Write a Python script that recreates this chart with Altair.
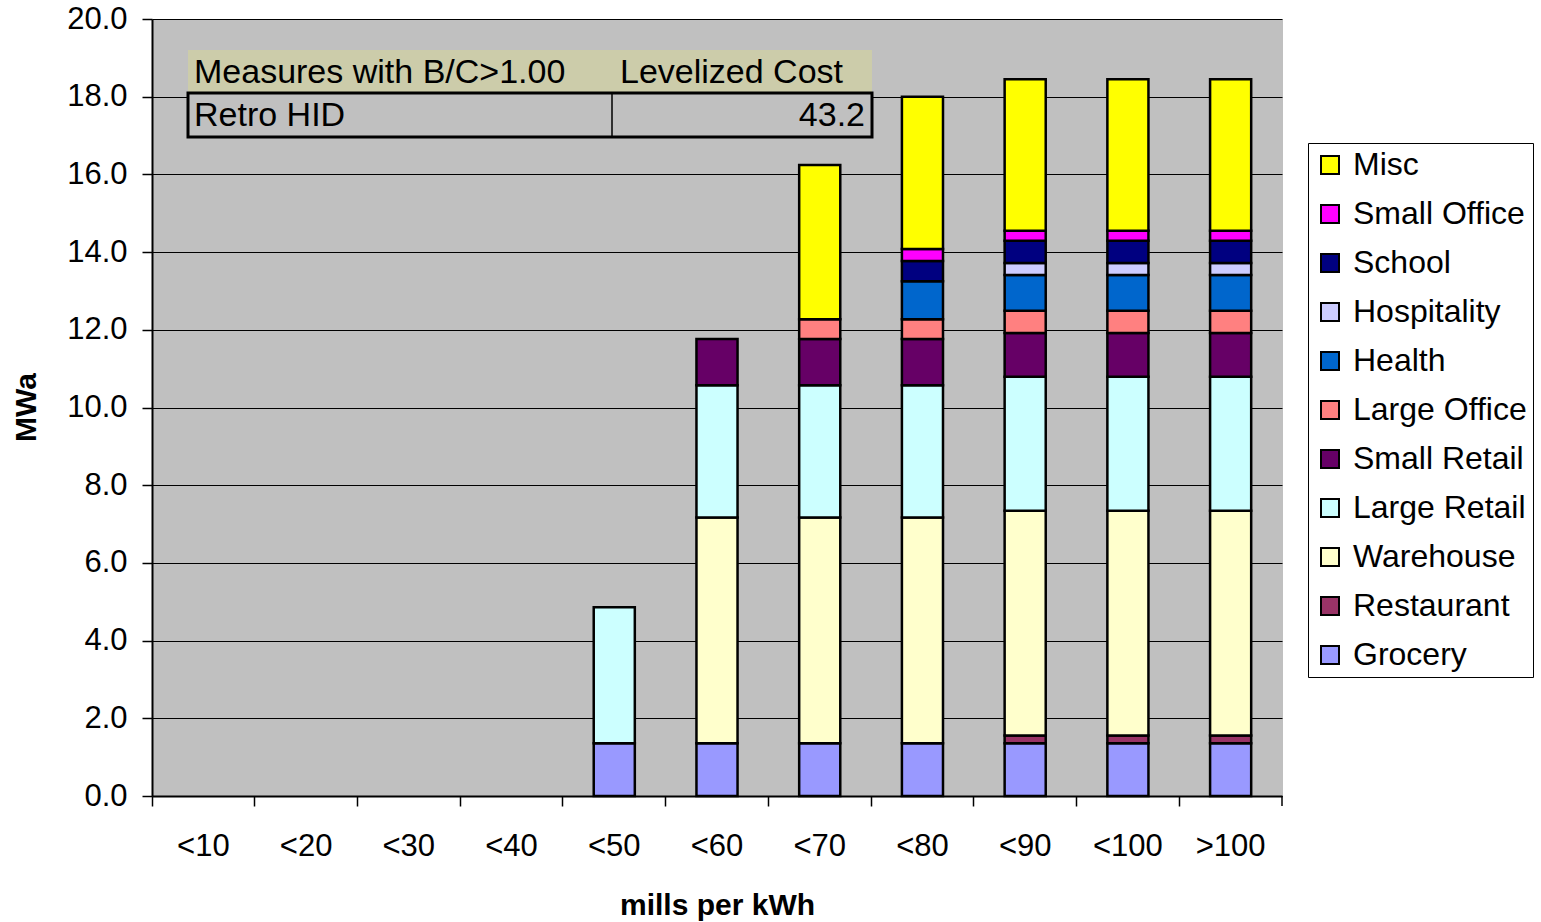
import altair as alt
import pandas as pd

categories = ["<10", "<20", "<30", "<40", "<50", "<60", "<70", "<80", "<90", "<100", ">100"]
segments = ["Misc", "Small Office", "School", "Hospitality", "Health", "Large Office",
            "Small Retail", "Large Retail", "Warehouse", "Restaurant", "Grocery"]
colors = ["#FFFF00", "#FF00FF", "#000080", "#CCCCFF", "#0066CC", "#FF8080",
          "#660066", "#CCFFFF", "#FFFFCC", "#993366", "#9999FF"]

grocery = [0, 0, 0, 0, 1.36, 1.36, 1.36, 1.36, 1.36, 1.36, 1.36]
restaurant = [0, 0, 0, 0, 0, 0, 0, 0, 0.20, 0.20, 0.20]
warehouse = [0, 0, 0, 0, 0, 5.81, 5.81, 5.81, 5.78, 5.78, 5.78]
large_retail = [0, 0, 0, 0, 3.50, 3.40, 3.40, 3.40, 3.45, 3.45, 3.45]
small_retail = [0, 0, 0, 0, 0, 1.19, 1.19, 1.19, 1.13, 1.13, 1.13]
large_office = [0, 0, 0, 0, 0, 0, 0.51, 0.51, 0.57, 0.57, 0.57]
health = [0, 0, 0, 0, 0, 0, 0, 0.98, 0.92, 0.92, 0.92]
hospitality = [0, 0, 0, 0, 0, 0, 0, 0, 0.31, 0.31, 0.31]
school = [0, 0, 0, 0, 0, 0, 0, 0.52, 0.57, 0.57, 0.57]
small_office = [0, 0, 0, 0, 0, 0, 0, 0.31, 0.26, 0.26, 0.26]
misc = [0, 0, 0, 0, 0, 0, 3.97, 3.92, 3.90, 3.90, 3.90]

table_header = ["Measures with B/C>1.00", "Levelized Cost"]
table_row = ["Retro HID", "43.2"]

series = {
    "Grocery": grocery, "Restaurant": restaurant, "Warehouse": warehouse,
    "Large Retail": large_retail, "Small Retail": small_retail,
    "Large Office": large_office, "Health": health, "Hospitality": hospitality,
    "School": school, "Small Office": small_office, "Misc": misc,
}
stack_order = list(reversed(segments))

rows = []
for seg in stack_order:
    for cat, v in zip(categories, series[seg]):
        if v > 0:
            rows.append({"cat": cat, "seg": seg, "val": v, "ord": stack_order.index(seg)})
df = pd.DataFrame(rows)

FONT = "Liberation Sans"

bars = alt.Chart(df).mark_bar(
    width=alt.RelativeBandSize(0.4), stroke="black", strokeWidth=2.5
).encode(
    x=alt.X("cat:N", sort=categories,
            scale=alt.Scale(domain=categories, paddingInner=0, paddingOuter=0),
            axis=alt.Axis(title="mills per kWh", bandPosition=0, labelAngle=0,
                          labelFontSize=31, labelPadding=40, labelBaseline="middle",
                          tickSize=10, tickWidth=1.5, tickColor="black",
                          domainColor="black", domainWidth=2, grid=False,
                          titleFontSize=30, titleFontWeight="bold",
                          titleX=565, titleY=109, titleBaseline="middle",
                          titleAlign="center")),
    y=alt.Y("val:Q", stack="zero",
            scale=alt.Scale(domain=[0, 20], nice=False),
            axis=alt.Axis(title="MWa", values=[0, 2, 4, 6, 8, 10, 12, 14, 16, 18, 20],
                          format=".1f", labelFontSize=31, labelPadding=15,
                          tickSize=10, tickWidth=1.5, tickColor="black",
                          domainColor="black", domainWidth=2,
                          grid=True, gridColor="black", gridWidth=1,
                          titleFontSize=30, titleFontWeight="bold",
                          titleX=-126, titleY=388, titleAngle=270,
                          titleAlign="center", titleBaseline="middle")),
    color=alt.Color("seg:N", scale=alt.Scale(domain=segments, range=colors),
                    legend=alt.Legend(title=None, orient="none", legendX=1156, legendY=124,
                                      strokeColor="black", fillColor="white", padding=6,
                                      labelFontSize=32, labelFont=FONT, labelLimit=400,
                                      symbolType="square", symbolSize=324,
                                      symbolStrokeColor="black", symbolStrokeWidth=2,
                                      labelOffset=7, rowPadding=17)),
    order=alt.Order("ord:Q", sort="ascending"),
)

end_tick = alt.Chart(pd.DataFrame({"k": [0]})).mark_rule(color="black", strokeWidth=1.5).encode(
    x=alt.value(1130), y=alt.value(777), y2=alt.value(787)
)

one = pd.DataFrame({"k": [0]})
hdr_rect = alt.Chart(one).mark_rect(fill="#CCCCAA").encode(
    x=alt.value(36), x2=alt.value(720), y=alt.value(31), y2=alt.value(73)
)
row_rect = alt.Chart(one).mark_rect(fill="#C0C0C0", stroke="black", strokeWidth=3).encode(
    x=alt.value(36), x2=alt.value(720), y=alt.value(74), y2=alt.value(118)
)
divider = alt.Chart(one).mark_rule(color="black", strokeWidth=1.5).encode(
    x=alt.value(460), y=alt.value(74), y2=alt.value(118)
)

def txt(s, x, y, align="left"):
    return alt.Chart(pd.DataFrame({"t": [s]})).mark_text(
        align=align, baseline="middle", fontSize=34, font=FONT, color="black"
    ).encode(x=alt.value(x), y=alt.value(y), text="t:N")

texts = [
    txt(table_header[0], 42, 54),
    txt(table_header[1], 468, 54),
    txt(table_row[0], 42, 97),
    txt(table_row[1], 713, 97, align="right"),
]

chart = alt.layer(bars, end_tick, hdr_rect, row_rect, divider, *texts).properties(
    width=1130, height=777,
    autosize=alt.AutoSizeParams(type="none"),
    padding={"left": 152, "top": 19, "right": 259, "bottom": 126},
).configure(font=FONT).configure_axis(
    labelFont=FONT, titleFont=FONT, labelColor="black", titleColor="black"
).configure_view(fill="#C0C0C0", stroke="#C0C0C0")

chart.save("out.html", embed_options={"renderer": "svg", "actions": False})
